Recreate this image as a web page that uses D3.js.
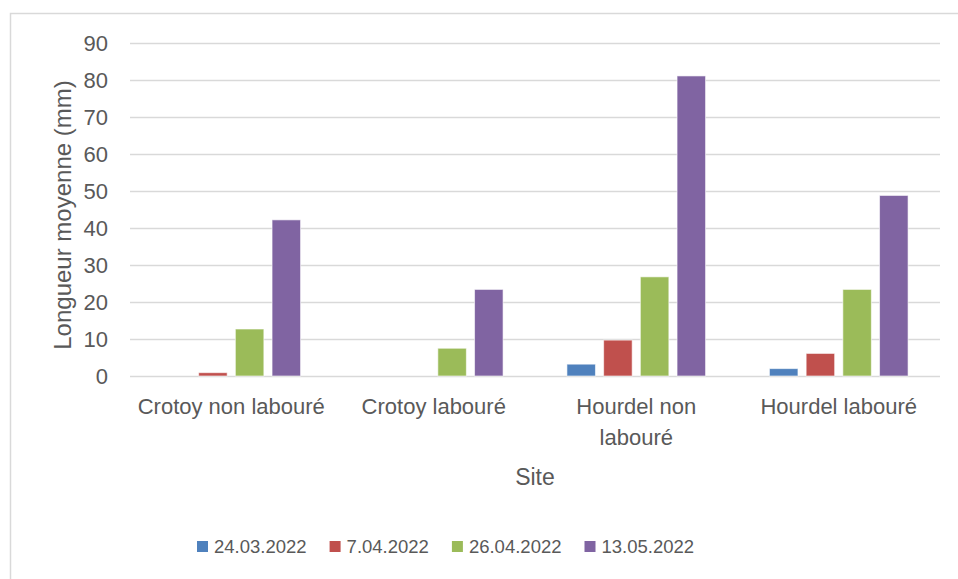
<!DOCTYPE html>
<html>
<head>
<meta charset="utf-8">
<script src="https://cdn.jsdelivr.net/npm/d3@7"></script>
<style>
  body { margin: 0; background: #fff; }
  text { font-family: "Liberation Sans", Arial, sans-serif; fill: #595959; }
</style>
</head>
<body>
<div id="chart"></div>
<script>
'use strict';

const sites = ['Crotoy non labouré', 'Crotoy labouré', 'Hourdel non labouré', 'Hourdel labouré'];
const dates = ['24.03.2022', '7.04.2022', '26.04.2022', '13.05.2022'];
const v24mar = [0, 0, 3.2, 2.0];
const v07apr = [0.9, 0, 9.7, 6.1];
const v26apr = [12.7, 7.5, 26.8, 23.4];
const v13may = [42.2, 23.4, 81.1, 48.8];
const yTicks = [0, 10, 20, 30, 40, 50, 60, 70, 80, 90];
const colors = ['#4f81bd', '#c0504d', '#9bbb59', '#8064a2'];

const series = [v24mar, v07apr, v26apr, v13may];

const width = 958;
const height = 579;
const plot = { left: 130, right: 940, top: 43, bottom: 376 };

const svg = d3.select('#chart')
  .append('svg')
    .attr('width', width)
    .attr('height', height);

// chart frame (only top and left edges are visible in the picture)
svg.append('rect')
  .attr('x', 10.5)
  .attr('y', 13.5)
  .attr('width', 1000)
  .attr('height', 1000)
  .attr('fill', 'none')
  .attr('stroke', '#d9d9d9')
  .attr('stroke-width', 1.5);

const y = d3.scaleLinear()
  .domain([0, 90])
  .range([plot.bottom, plot.top]);

const x0 = d3.scaleBand()
  .domain(sites)
  .range([plot.left, plot.right]);

const x1 = d3.scaleBand()
  .domain(dates)
  .range([0, x0.bandwidth()])
  .paddingInner(0.223)
  .paddingOuter(0.87);

// gridlines + tick labels
const yAxis = svg.append('g')
  .attr('transform', 'translate(' + plot.left + ',0)')
  .call(d3.axisLeft(y)
    .tickValues(yTicks)
    .tickSize(-(plot.right - plot.left))
    .tickPadding(22));

yAxis.select('.domain').remove();
yAxis.selectAll('line')
  .attr('stroke', '#d9d9d9')
  .attr('stroke-width', 1.5);
yAxis.selectAll('text')
  .attr('font-size', 22)
  .attr('font-family', '"Liberation Sans", Arial, sans-serif')
  .style('fill', '#595959');

// bars
const groups = svg.append('g')
  .selectAll('g')
  .data(sites)
  .enter()
  .append('g')
    .attr('transform', d => 'translate(' + x0(d) + ',0)');

groups.selectAll('rect')
  .data((d, i) => series.map((s, k) => ({ date: dates[k], value: s[i], k: k })))
  .enter()
  .append('rect')
    .attr('x', d => x1(d.date))
    .attr('width', x1.bandwidth())
    .attr('y', d => y(d.value))
    .attr('height', d => y(0) - y(d.value))
    .attr('fill', d => colors[d.k])
    .attr('stroke', d => d.value > 0 ? '#ffffff' : 'none')
    .attr('stroke-opacity', 0.6)
    .attr('stroke-width', 1);

// category labels, wrapped when too wide
const wrapWidth = 192;
const catLabels = svg.append('g')
  .selectAll('text')
  .data(sites)
  .enter()
  .append('text')
    .attr('x', d => x0(d) + x0.bandwidth() / 2)
    .attr('y', 414)
    .attr('text-anchor', 'middle')
    .attr('font-size', 22);

catLabels.each(function (d) {
  const t = d3.select(this);
  const cx = x0(d) + x0.bandwidth() / 2;
  const words = d.split(' ');
  let line = [];
  let lines = [];
  const probe = t.append('tspan');
  words.forEach(w => {
    const test = line.concat([w]).join(' ');
    probe.text(test);
    if (probe.node().getComputedTextLength() > wrapWidth && line.length) {
      lines.push(line.join(' '));
      line = [w];
    } else {
      line.push(w);
    }
  });
  lines.push(line.join(' '));
  probe.remove();
  lines.forEach((l, i) => {
    t.append('tspan')
      .attr('x', cx)
      .attr('dy', i === 0 ? 0 : 31)
      .text(l);
  });
});

// axis titles
svg.append('text')
  .attr('x', (plot.left + plot.right) / 2)
  .attr('y', 485)
  .attr('text-anchor', 'middle')
  .attr('font-size', 23)
  .text('Site');

svg.append('text')
  .attr('transform', 'translate(71,215) rotate(-90)')
  .attr('text-anchor', 'middle')
  .attr('font-size', 24)
  .text('Longueur moyenne (mm)');

// legend
const legend = svg.append('g')
  .attr('transform', 'translate(197,0)');

let lx = 0;
dates.forEach((d, i) => {
  const item = legend.append('g')
    .attr('transform', 'translate(' + lx + ',0)');
  item.append('rect')
    .attr('x', 0)
    .attr('y', 541)
    .attr('width', 11)
    .attr('height', 11)
    .attr('fill', colors[i]);
  const txt = item.append('text')
    .attr('x', 17)
    .attr('y', 553)
    .attr('font-size', 18.5)
    .text(d);
  lx += 17 + txt.node().getComputedTextLength() + 23;
});
</script>
</body>
</html>
